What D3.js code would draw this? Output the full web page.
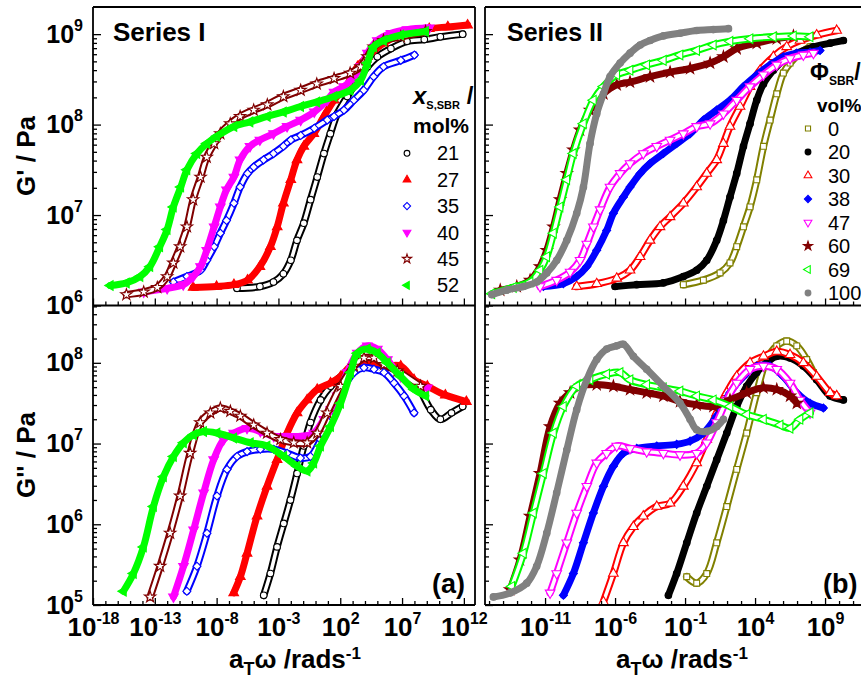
<!DOCTYPE html>
<html><head><meta charset="utf-8">
<script src="https://cdn.jsdelivr.net/npm/d3@7"></script>
<style>body{margin:0;background:#fff}</style>
</head><body><svg id="c" width="861" height="679"></svg>
<script>
// ---- DATA: pairs of [log10(aT·ω / rad s^-1), log10(modulus / Pa)] ----
// Series I (x_S,SBR mol%)
const seriesI_labels = ["21", "27", "35", "40", "45", "52"];
const gp1_21 = [[-6.35,6.19],[-4.5,6.21],[-3.4,6.26],[-2.6,6.35],[-2.0,6.5],[-1.5,6.72],[-0.95,6.91],[-0.4,7.17],[0.14,7.42],[0.68,7.68],[1.2,7.9],[1.76,8.12],[2.57,8.31],[3.4,8.49],[4.2,8.64],[5.0,8.75],[6.1,8.84],[7.4,8.92],[8.8,8.94],[10.1,8.97],[11.9,9.0]];
const gp1_27 = [[-9.9,6.2],[-8.0,6.21],[-6.6,6.23],[-5.5,6.28],[-4.5,6.43],[-3.65,6.65],[-3.1,6.87],[-2.6,7.13],[-2.0,7.39],[-1.5,7.61],[-0.95,7.76],[-0.14,7.9],[0.68,8.09],[1.5,8.27],[2.6,8.45],[3.4,8.64],[4.2,8.75],[5.5,8.9],[6.9,8.99],[9.2,9.06],[10.7,9.08],[12.3,9.1]];
const gp1_35 = [[-11.5,6.26],[-10.4,6.32],[-9.3,6.39],[-8.8,6.5],[-8.2,6.65],[-7.7,6.8],[-7.2,6.94],[-6.6,7.13],[-6.1,7.31],[-5.5,7.46],[-5.0,7.53],[-4.2,7.61],[-3.4,7.68],[-2.6,7.76],[-2.0,7.83],[-1.2,7.88],[-0.1,7.96],[0.95,8.05],[1.5,8.09],[2.3,8.16],[3.1,8.27],[3.9,8.38],[4.7,8.53],[5.5,8.64],[6.9,8.71],[8.0,8.77]];
const gp1_40 = [[-13.9,6.15],[-12.0,6.19],[-10.7,6.23],[-9.9,6.32],[-9.3,6.43],[-8.8,6.61],[-8.2,6.87],[-7.7,7.09],[-7.2,7.28],[-6.6,7.42],[-6.1,7.61],[-5.3,7.76],[-4.5,7.83],[-3.4,7.9],[-2.3,7.98],[-1.2,8.05],[-0.1,8.14],[0.95,8.27],[1.5,8.36],[2.3,8.42],[3.1,8.53],[3.65,8.64],[4.2,8.79],[5.0,8.93],[6.1,9.01],[7.4,9.05],[9.2,9.07]];
const gp1_45 = [[-15.3,6.12],[-13.9,6.15],[-12.8,6.2],[-12.0,6.32],[-11.5,6.47],[-10.95,6.65],[-10.4,6.87],[-9.9,7.17],[-9.3,7.42],[-8.8,7.64],[-8.2,7.79],[-7.7,7.9],[-6.9,8.01],[-6.1,8.09],[-5.0,8.16],[-3.9,8.22],[-2.6,8.31],[-1.2,8.38],[0.1,8.45],[1.5,8.51],[2.8,8.57],[3.65,8.64],[4.2,8.75],[4.7,8.86],[5.5,8.93],[6.9,8.97],[8.9,9.03]];
const gp1_52 = [[-16.6,6.22],[-15.3,6.25],[-14.2,6.32],[-13.4,6.43],[-12.6,6.65],[-12.0,6.84],[-11.5,7.09],[-10.9,7.31],[-10.4,7.5],[-9.6,7.68],[-8.8,7.79],[-8.0,7.87],[-6.6,7.98],[-5.3,8.03],[-3.9,8.09],[-2.6,8.14],[-1.2,8.2],[0.1,8.25],[1.5,8.31],[2.8,8.38],[3.65,8.49],[4.2,8.68],[4.7,8.86],[5.5,8.93],[6.9,8.99],[8.9,9.03]];
const gpp1_21 = [[-4.19,5.12],[-3.65,5.39],[-3.11,5.72],[-2.57,6.01],[-2.03,6.3],[-1.49,6.63],[-0.95,6.97],[-0.41,7.26],[0.41,7.54],[1.22,7.71],[2.3,7.86],[3.38,7.96],[4.46,7.98],[5.54,7.96],[6.89,7.9],[8.24,7.71],[9.32,7.42],[10.1,7.3],[11.0,7.38],[11.9,7.46]];
const gpp1_27 = [[-6.62,5.15],[-6.08,5.35],[-5.54,5.64],[-4.73,6.1],[-3.92,6.47],[-3.11,6.8],[-2.3,7.13],[-1.49,7.38],[-0.68,7.54],[0.14,7.67],[1.22,7.75],[2.03,7.83],[2.84,7.96],[3.65,8.02],[4.46,8.0],[5.54,7.96],[6.89,7.96],[7.97,7.79],[9.05,7.71],[10.5,7.6],[12.2,7.52]];
const gpp1_35 = [[-10.41,5.17],[-9.59,5.48],[-8.78,5.89],[-7.97,6.35],[-7.16,6.68],[-6.35,6.84],[-5.54,6.9],[-4.46,6.93],[-3.38,6.93],[-2.3,6.88],[-1.22,6.82],[-0.41,6.84],[0.41,7.05],[1.22,7.34],[2.03,7.63],[3.11,7.88],[3.92,7.94],[4.73,7.92],[5.54,7.88],[6.35,7.75],[7.16,7.59],[7.97,7.38]];
const gpp1_40 = [[-11.49,5.1],[-10.68,5.48],[-9.86,5.93],[-9.05,6.39],[-8.24,6.8],[-7.43,7.05],[-6.62,7.13],[-5.54,7.19],[-4.46,7.15],[-3.38,7.09],[-2.3,7.09],[-1.22,7.09],[-0.14,7.13],[0.68,7.3],[1.22,7.42],[1.76,7.59],[2.57,7.88],[3.38,8.12],[4.19,8.21],[5.0,8.17],[5.81,8.04],[6.89,7.83],[7.97,7.73],[9.05,7.69]];
const gpp1_45 = [[-13.38,5.1],[-12.57,5.48],[-11.76,5.89],[-10.95,6.35],[-10.14,6.88],[-9.32,7.26],[-8.51,7.38],[-7.7,7.44],[-6.89,7.4],[-6.08,7.34],[-5.0,7.23],[-3.92,7.13],[-2.84,7.05],[-1.76,7.01],[-0.68,7.01],[0.14,7.13],[0.95,7.38],[2.03,7.71],[3.11,7.96],[3.92,8.06],[4.73,8.06],[5.54,7.98],[6.62,7.9],[8.5,7.71]];
const gpp1_52 = [[-15.54,5.17],[-14.73,5.39],[-13.92,5.72],[-13.11,6.22],[-12.3,6.59],[-11.49,6.84],[-10.68,7.01],[-9.86,7.11],[-9.05,7.15],[-7.97,7.13],[-6.62,7.07],[-5.27,7.01],[-3.92,6.97],[-2.57,6.84],[-1.49,6.72],[-0.68,6.66],[-0.14,6.76],[0.41,6.97],[1.22,7.21],[2.03,7.5],[2.84,7.88],[3.38,8.12],[4.19,8.17],[5.0,8.12],[5.81,8.0],[6.89,7.83],[7.97,7.67],[8.92,7.59]];

// Series II (Φ_SBR vol%)
const seriesII_labels = ["0", "20", "30", "38", "47", "60", "69", "100"];
const gp2_0 = [[-1.12,6.23],[0.31,6.28],[1.5,6.36],[2.21,6.47],[2.69,6.65],[3.17,6.87],[3.64,7.09],[4.12,7.39],[4.6,7.76],[5.07,8.05],[5.55,8.34],[6.02,8.57],[6.5,8.68],[7.21,8.79],[7.93,8.86]];
const gp2_20 = [[-6.0,6.21],[-4.45,6.23],[-2.55,6.25],[-1.12,6.32],[-0.17,6.39],[0.55,6.5],[1.26,6.72],[1.74,6.94],[2.21,7.2],[2.69,7.46],[3.17,7.76],[3.64,8.01],[4.12,8.27],[4.6,8.45],[5.31,8.6],[6.02,8.71],[6.98,8.79],[8.17,8.86],[9.36,8.9],[10.31,8.93]];
const gp2_30 = [[-8.74,6.21],[-7.31,6.24],[-5.88,6.3],[-4.93,6.39],[-4.21,6.54],[-3.5,6.72],[-2.79,6.87],[-2.07,6.98],[-1.12,7.13],[-0.17,7.31],[0.55,7.46],[1.26,7.61],[1.74,7.79],[2.21,7.98],[2.93,8.2],[3.64,8.42],[4.36,8.6],[5.31,8.75],[6.26,8.86],[7.21,8.93],[8.4,8.99],[9.83,9.04]];
const gp2_38 = [[-11.12,6.21],[-9.69,6.24],[-8.74,6.32],[-8.02,6.43],[-7.31,6.61],[-6.6,6.83],[-6.12,7.02],[-5.4,7.2],[-4.93,7.31],[-4.21,7.46],[-3.5,7.57],[-2.55,7.68],[-1.6,7.79],[-0.64,7.9],[0.31,8.05],[1.26,8.16],[2.21,8.27],[3.17,8.42],[4.12,8.55],[5.07,8.66],[6.02,8.75],[6.98,8.79],[7.93,8.8],[8.64,8.82]];
const gp2_47 = [[-11.36,6.21],[-10.17,6.28],[-9.21,6.37],[-8.5,6.5],[-8.02,6.68],[-7.55,6.87],[-7.07,7.06],[-6.36,7.31],[-5.64,7.46],[-4.93,7.57],[-3.98,7.68],[-3.02,7.76],[-2.07,7.83],[-1.12,7.9],[-0.17,7.98],[0.79,8.01],[1.74,8.12],[2.69,8.27],[3.64,8.42],[4.6,8.55],[5.55,8.66],[6.5,8.73],[7.45,8.77],[8.17,8.79]];
const gp2_60 = [[-14.2,6.17],[-13.02,6.21],[-12.07,6.28],[-11.36,6.43],[-10.88,6.61],[-10.4,6.87],[-9.93,7.17],[-9.45,7.46],[-8.98,7.72],[-8.5,7.94],[-7.79,8.16],[-6.83,8.34],[-5.88,8.44],[-4.93,8.47],[-3.5,8.53],[-2.07,8.58],[-0.64,8.62],[0.79,8.68],[1.74,8.75],[2.69,8.84],[4.12,8.9],[5.55,8.95],[6.74,8.98]];
const gp2_69 = [[-14.8,6.13],[-13.26,6.2],[-12.07,6.26],[-11.36,6.39],[-10.88,6.54],[-10.4,6.8],[-9.93,7.09],[-9.45,7.39],[-8.98,7.68],[-8.26,8.01],[-7.55,8.27],[-6.83,8.42],[-5.88,8.55],[-4.93,8.6],[-3.74,8.66],[-2.55,8.71],[-1.36,8.77],[-0.17,8.82],[1.02,8.88],[2.21,8.92],[3.64,8.95],[5.31,8.97],[6.74,8.98],[7.93,8.97]];
const gp2_100 = [[-14.8,6.12],[-13.74,6.17],[-12.55,6.21],[-11.6,6.26],[-10.88,6.36],[-10.17,6.5],[-9.45,6.72],[-8.74,7.02],[-8.26,7.31],[-7.79,7.79],[-7.31,8.12],[-6.83,8.34],[-6.36,8.53],[-5.64,8.68],[-4.93,8.79],[-4.21,8.88],[-3.5,8.93],[-2.55,8.98],[-1.36,9.01],[-0.17,9.04],[1.02,9.05],[2.1,9.06]];
const gpp2_0 = [[-0.88,5.35],[-0.17,5.27],[0.55,5.39],[1.26,5.77],[1.98,6.22],[2.69,6.68],[3.4,7.13],[4.12,7.63],[4.83,8.04],[5.55,8.21],[6.26,8.27],[6.98,8.21],[7.69,8.04],[8.17,7.88]];
const gpp2_20 = [[-2.19,5.12],[-1.6,5.39],[-0.88,5.77],[-0.17,6.14],[0.55,6.47],[1.26,6.8],[1.98,7.13],[2.69,7.46],[3.4,7.71],[4.12,7.88],[4.83,8.0],[5.55,8.08],[6.5,8.06],[7.45,7.96],[8.4,7.79],[9.36,7.59],[10.31,7.54]];
const gpp2_30 = [[-6.83,5.04],[-6.12,5.39],[-5.4,5.77],[-4.69,5.97],[-3.98,6.1],[-3.02,6.22],[-2.07,6.26],[-1.12,6.47],[-0.17,6.76],[0.55,7.05],[1.26,7.38],[1.98,7.63],[2.69,7.83],[3.64,8.0],[4.6,8.08],[5.55,8.14],[6.5,8.1],[7.45,8.0],[8.4,7.83],[9.36,7.63],[9.83,7.59]];
const gpp2_38 = [[-9.69,5.12],[-8.98,5.39],[-8.26,5.77],[-7.55,6.14],[-6.83,6.47],[-6.12,6.72],[-5.4,6.88],[-4.45,6.94],[-3.02,6.97],[-1.6,6.99],[-0.64,7.03],[0.31,7.13],[1.26,7.34],[2.21,7.63],[3.17,7.83],[4.12,7.96],[5.07,7.96],[6.02,7.83],[6.98,7.63],[7.93,7.5],[8.88,7.44]];
const gpp2_47 = [[-10.64,5.15],[-10.17,5.39],[-9.45,5.77],[-8.74,6.14],[-8.02,6.47],[-7.31,6.76],[-6.6,6.88],[-5.88,6.97],[-4.93,6.94],[-3.74,6.9],[-2.55,6.88],[-1.36,6.86],[-0.17,6.88],[0.55,7.01],[1.26,7.26],[1.98,7.54],[2.69,7.75],[3.64,7.92],[4.6,7.96],[5.55,7.92],[6.5,7.75],[7.21,7.54],[7.93,7.38]];
const gpp2_60 = [[-13.5,5.19],[-12.79,5.56],[-12.07,6.1],[-11.36,6.63],[-10.64,7.21],[-9.93,7.5],[-9.21,7.63],[-8.5,7.71],[-7.31,7.73],[-6.12,7.71],[-4.93,7.67],[-3.74,7.63],[-2.55,7.59],[-1.36,7.52],[-0.17,7.48],[1.02,7.46],[2.21,7.54],[3.4,7.63],[4.6,7.69],[5.55,7.67],[6.5,7.59],[6.98,7.5]];
const gpp2_69 = [[-13.38,5.23],[-12.55,5.64],[-11.83,6.14],[-11.12,6.63],[-10.4,7.13],[-9.69,7.46],[-8.74,7.71],[-7.79,7.79],[-6.6,7.86],[-5.64,7.88],[-4.93,7.79],[-3.74,7.73],[-2.55,7.69],[-1.36,7.65],[-0.17,7.59],[1.02,7.54],[2.21,7.46],[3.4,7.36],[4.6,7.3],[5.79,7.23],[6.5,7.19],[7.21,7.3],[7.93,7.38]];
const gpp2_100 = [[-14.69,5.1],[-13.5,5.15],[-12.31,5.27],[-11.6,5.48],[-10.88,5.89],[-10.17,6.39],[-9.45,6.92],[-8.74,7.42],[-8.02,7.79],[-7.31,8.04],[-6.6,8.17],[-5.88,8.21],[-5.4,8.23],[-4.69,8.08],[-3.74,7.92],[-2.55,7.71],[-1.36,7.5],[-0.64,7.3],[-0.17,7.17],[0.55,7.15],[1.26,7.21],[1.74,7.3]];

const seriesI_Gp  = [gp1_21, gp1_27, gp1_35, gp1_40, gp1_45, gp1_52];
const seriesI_Gpp = [gpp1_21, gpp1_27, gpp1_35, gpp1_40, gpp1_45, gpp1_52];
const seriesII_Gp  = [gp2_0, gp2_20, gp2_30, gp2_38, gp2_47, gp2_60, gp2_69, gp2_100];
const seriesII_Gpp = [gpp2_0, gpp2_20, gpp2_30, gpp2_38, gpp2_47, gpp2_60, gpp2_69, gpp2_100];

// tick labels (exponents)
const xTicksLeft  = [-18, -13, -8, -3, 2, 7, 12];
const xTicksRight = [-11, -6, -1, 4, 9];
const yTicksTop = [6, 7, 8, 9];
const yTicksBottom = [5, 6, 7, 8];

// ---- STYLES ----
const styleI = [
  {color:"#000000", sym:"circle",  fill:false},
  {color:"#ff0000", sym:"triUp",   fill:true},
  {color:"#0000ff", sym:"diamond", fill:false},
  {color:"#ff00ff", sym:"triDown", fill:true},
  {color:"#800000", sym:"star",    fill:false},
  {color:"#00ff00", sym:"triLeft", fill:true}
];
const styleII = [
  {color:"#808000", sym:"square",  fill:false},
  {color:"#000000", sym:"circle",  fill:true},
  {color:"#ff0000", sym:"triUp",   fill:false},
  {color:"#0000ff", sym:"diamond", fill:true},
  {color:"#ff00ff", sym:"triDown", fill:false},
  {color:"#800000", sym:"star",    fill:true},
  {color:"#00ff00", sym:"triLeft", fill:false},
  {color:"#808080", sym:"circle",  fill:true}
];
const SYM = {
  circle:{t:d3.symbolCircle, r:0, s:34},
  triUp:{t:d3.symbolTriangle, r:0, s:40},
  triDown:{t:d3.symbolTriangle, r:180, s:40},
  triLeft:{t:d3.symbolTriangle, r:-90, s:40},
  diamond:{t:d3.symbolSquare, r:45, s:32},
  star:{t:d3.symbolStar, r:0, s:40},
  square:{t:d3.symbolSquare, r:0, s:34}
};

const F = "'Liberation Sans', Arial, Helvetica, sans-serif";
const svg = d3.select("#c");
svg.append("rect").attr("width",861).attr("height",679).attr("fill","#fff");

const xL = d3.scaleLog().domain([1e-18, 10**12.9]).range([93,475]);
const xR = d3.scaleLog().domain([10**-15.29, 10**12.21]).range([485,870]);
const yT = d3.scaleLog().domain([1e6, 10**9.3]).range([305.5,7]);
const yB = d3.scaleLog().domain([1e5, 10**8.71]).range([605,305.5]);

const defs = svg.append("defs");
function clip(id, x0, y0, x1, y1){
  defs.append("clipPath").attr("id",id).append("rect").attr("x",x0).attr("y",y0).attr("width",x1-x0).attr("height",y1-y0);
}
clip("ctl",93,7,475,305.5); clip("cbl",93,305.5,475,605);
clip("ctr",485,7,861,305.5); clip("cbr",485,305.5,861,605);

function marker(sel, st, size){
  const s = SYM[st.sym];
  sel.attr("d", d3.symbol().type(s.t).size(size || s.s)())
     .attr("fill", st.fill ? st.color : "#fff")
     .attr("stroke", st.color).attr("stroke-width", 1.1);
  return s.r;
}

function drawPanel(list, styles, x, y, clipId){
  const g = svg.append("g").attr("clip-path", `url(#${clipId})`);
  const line = d3.line().x(d=>x(10**d[0])).y(d=>y(10**d[1])).curve(d3.curveCatmullRom);
  list.forEach((data, i)=>{
    const st = styles[i];
    const sg = g.append("g");
    if (st.fill){
      sg.append("path").attr("d", line(data)).attr("fill","none")
        .attr("stroke", st.color).attr("stroke-width", 7).attr("stroke-linejoin","round").attr("stroke-linecap","round");
    } else {
      sg.append("path").attr("d", line(data)).attr("fill","none")
        .attr("stroke", st.color).attr("stroke-width", 7.5).attr("stroke-linejoin","round").attr("stroke-linecap","round");
      sg.append("path").attr("d", line(data)).attr("fill","none")
        .attr("stroke", "#fff").attr("stroke-width", 3.5).attr("stroke-linejoin","round").attr("stroke-linecap","round");
    }
    const s = SYM[st.sym];
    sg.selectAll("path.m").data(data).enter().append("path").attr("class","m")
      .each(function(){ marker(d3.select(this), st); })
      .attr("transform", d=>`translate(${x(10**d[0])},${y(10**d[1])}) rotate(${s.r})`);
  });
}

drawPanel(seriesI_Gp, styleI, xL, yT, "ctl");
drawPanel(seriesI_Gpp, styleI, xL, yB, "cbl");
drawPanel(seriesII_Gp, styleII, xR, yT, "ctr");
drawPanel(seriesII_Gpp, styleII, xR, yB, "cbr");

// ---- AXES ----
function supLabels(sel, sfs, sdy){
  sel.selectAll(".tick text").each(function(d){
    const e = Math.round(Math.log10(d));
    const t = d3.select(this); t.text(null);
    t.append("tspan").text("10");
    t.append("tspan").attr("font-size", sfs).attr("dy", sdy).text(e);
  });
}
function xAxis(x, yPos, lo, hi, majors, labels){
  const minor = d3.range(Math.ceil(lo), Math.floor(hi)+1).filter(e=>!majors.includes(e)).map(e=>10**e);
  svg.append("g").attr("transform",`translate(0,${yPos})`)
    .call(d3.axisBottom(x).tickValues(minor).tickSize(-4).tickFormat(""))
    .call(g=>g.select(".domain").remove())
    .call(g=>g.selectAll("line").attr("stroke-width",1.3));
  const ag = svg.append("g").attr("transform",`translate(0,${yPos})`)
    .call(d3.axisBottom(x).tickValues(majors.map(e=>10**e)).tickSize(-7).tickPadding(13).tickFormat(labels? (d=>"10") : ""))
    .call(g=>g.select(".domain").remove())
    .call(g=>g.selectAll("line").attr("stroke-width",1.3));
  if (labels){
    ag.attr("font-family",F).attr("font-size",26).attr("font-weight","bold");
    supLabels(ag, 16, -12);
  }
}
function yAxis(y, xPos, lo, hi, majors, labels){
  const minor = [];
  for (let e=Math.floor(lo); e<=Math.ceil(hi); e++) for (let k=2;k<=9;k++){
    const v = k*10**e; if (Math.log10(v)>=lo && Math.log10(v)<=hi) minor.push(v);
  }
  svg.append("g").attr("transform",`translate(${xPos},0)`)
    .call(d3.axisLeft(y).tickValues(minor).tickSize(-4).tickFormat(""))
    .call(g=>g.select(".domain").remove())
    .call(g=>g.selectAll("line").attr("stroke-width",1.3));
  const ag = svg.append("g").attr("transform",`translate(${xPos},0)`)
    .call(d3.axisLeft(y).tickValues(majors.map(e=>10**e)).tickSize(-8).tickPadding(10).tickFormat(labels? (d=>"10") : ""))
    .call(g=>g.select(".domain").remove())
    .call(g=>g.selectAll("line").attr("stroke-width",1.3));
  if (labels){
    ag.attr("font-family",F).attr("font-size",25).attr("font-weight","bold");
    supLabels(ag, 16, -12);
  }
}
xAxis(xL, 305.5, -18, 12.9, xTicksLeft, false);
xAxis(xL, 605, -18, 12.9, xTicksLeft, true);
xAxis(xR, 305.5, -15.29, 12.21, xTicksRight, false);
xAxis(xR, 605, -15.29, 12.21, xTicksRight, true);
yAxis(yT, 93, 6, 9.3, yTicksTop, true);
yAxis(yB, 93, 5, 8.71, yTicksBottom, true);
yAxis(yT, 485, 6, 9.3, yTicksTop, false);
yAxis(yB, 485, 5, 8.71, yTicksBottom, false);

// frames
const fr = svg.append("g").attr("stroke","#000").attr("stroke-width",1.8).attr("fill","none");
[[93,7,475,7],[93,305.5,475,305.5],[93,605,475,605],[93,7,93,605],[475,7,475,605],
 [485,7,862,7],[485,305.5,862,305.5],[485,605,862,605],[485,7,485,605]]
 .forEach(l=>fr.append("line").attr("x1",l[0]).attr("y1",l[1]).attr("x2",l[2]).attr("y2",l[3]));

// ---- TEXTS ----
const T = (x,y,txt,fs,fw)=>svg.append("text").attr("x",x).attr("y",y).attr("font-family",F)
  .attr("font-size",fs).attr("font-weight",fw||"bold").attr("fill","#000").text(txt);
T(113,41,"Series I",26);
T(507,41,"Series II",25);
T(432,593,"(a)",27);
T(823,593,"(b)",27);

svg.append("text").attr("transform","translate(35,156) rotate(-90)").attr("text-anchor","middle")
  .attr("font-family",F).attr("font-size",26).attr("font-weight","bold").text("G' / Pa");
svg.append("text").attr("transform","translate(35,455) rotate(-90)").attr("text-anchor","middle")
  .attr("font-family",F).attr("font-size",26).attr("font-weight","bold").text("G'' / Pa");

function xTitle(cx){
  const t = svg.append("text").attr("x",cx).attr("y",668).attr("text-anchor","middle")
    .attr("font-family",F).attr("font-size",26).attr("font-weight","bold");
  t.append("tspan").text("a");
  t.append("tspan").attr("font-size",18).attr("dy",7).text("T");
  t.append("tspan").attr("dy",-7).text("ω /rads");
  t.append("tspan").attr("font-size",17).attr("dy",-9).text("-1");
}
xTitle(295); xTitle(682);

// legend I
{
  const t = svg.append("text").attr("x",413).attr("y",104).attr("font-family",F).attr("font-weight","bold").attr("font-size",24);
  t.append("tspan").attr("font-style","italic").text("x");
  t.append("tspan").attr("font-size",11).attr("dy",5).text("S,SBR");
  t.append("tspan").attr("dy",-5).text(" /");
  T(413,133,"mol%",21);
  seriesI_labels.forEach((lab,i)=>{
    const yy = 153.3 + i*26.4;
    const st = styleI[i];
    const r = marker(svg.append("path"), st, 26);
    d3.select(svg.node().lastChild).attr("transform",`translate(407,${yy}) rotate(${r})`);
    T(437, yy+7, lab, 20, "normal");
  });
}
// legend II
{
  const t = svg.append("text").attr("x",810).attr("y",80).attr("font-family",F).attr("font-weight","bold").attr("font-size",23);
  t.append("tspan").text("Φ");
  t.append("tspan").attr("font-size",12).attr("dy",5).text("SBR");
  t.append("tspan").attr("dy",-5).text("/");
  T(817,112,"vol%",19);
  seriesII_labels.forEach((lab,i)=>{
    const yy = 128.5 + i*23.5;
    const st = styleII[i];
    const r = marker(svg.append("path"), st, 26);
    d3.select(svg.node().lastChild).attr("transform",`translate(808,${yy}) rotate(${r})`);
    T(828, yy+7, lab, 20, "normal");
  });
}
</script></body></html>
